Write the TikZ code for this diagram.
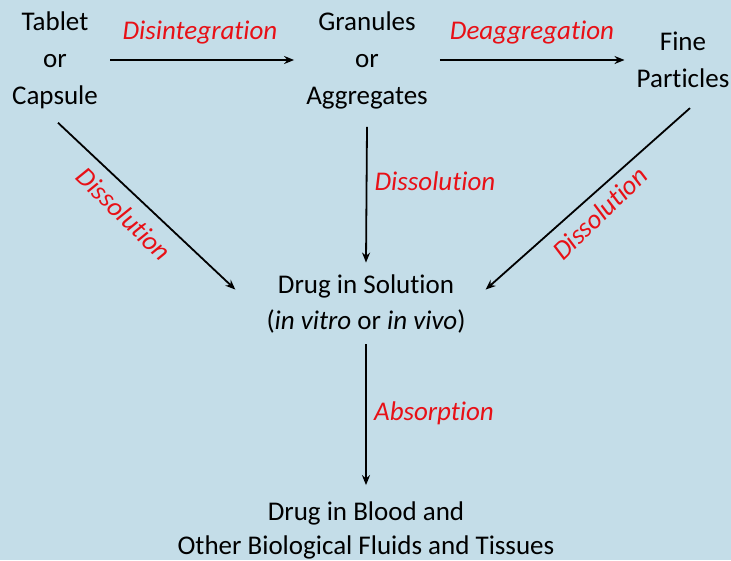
\documentclass[tikz,border=0pt]{standalone}
\usepackage{fontspec}
\setmainfont{Carlito}[Ligatures=NoCommon]
\usetikzlibrary{arrows.meta}
\definecolor{bgblue}{RGB}{196,221,232}
\definecolor{lblred}{RGB}{232,16,22}
\begin{document}
\begin{tikzpicture}[x=1pt,y=-1pt,
  txt/.style={align=center,inner sep=4pt,font=\fontsize{27}{37}\selectfont},
  lbl/.style={text=lblred,inner sep=2pt,font=\fontsize{27}{30}\selectfont\itshape},
  arr/.style={draw=black,line width=1.8pt,-{Stealth[length=10pt,width=8pt]}}]
\fill[bgblue] (0,0) rectangle (731,560);
\useasboundingbox (0,0) rectangle (731,560);
\node[txt] (tab) at (55,60) {Tablet\\or\\Capsule};
\node[txt] (gran) at (367,60) {Granules\\or\\Aggregates};
\node[txt] (fine) at (683,60) {Fine\\Particles};
\node[txt,font=\fontsize{27}{36}\selectfont] (sol) at (366,304) {Drug in Solution\\(\textit{in vitro} or \textit{in vivo})};
\node[txt,font=\fontsize{27}{34}\selectfont] (blood) at (366,530) {Drug in Blood and\\Other Biological Fluids and Tissues};
\draw[arr] ([xshift=8pt]tab.east) -- ([xshift=-8pt]gran.west);
\draw[arr] ([xshift=8pt]gran.east) -- ([xshift=-8pt]fine.west|-gran.east);
\draw[arr] ([shift={(3pt,-10pt)}]tab.south) -- ([shift={(-27pt,-19pt)}]sol.north west);
\draw[arr] ([yshift=-14pt]gran.south) -- ([yshift=8pt]sol.north);
\draw[arr] ([shift={(7pt,-16pt)}]fine.south) -- ([shift={(16pt,-19pt)}]sol.north east);
\draw[arr] ([yshift=-7pt]sol.south) -- ([yshift=12pt]blood.north);
\node[lbl] (l1) at (200,33) {Disintegration};
\node[lbl] (l2) at (532,33) {Deaggregation};
\node[lbl,rotate=-44] (l3) at (124,214) {Dissolution};
\node[lbl] (l4) at (435,181) {Dissolution};
\node[lbl,rotate=44] (l5) at (600,213) {Dissolution};
\node[lbl] (l6) at (434,413) {Absorption};
\end{tikzpicture}
\end{document}
